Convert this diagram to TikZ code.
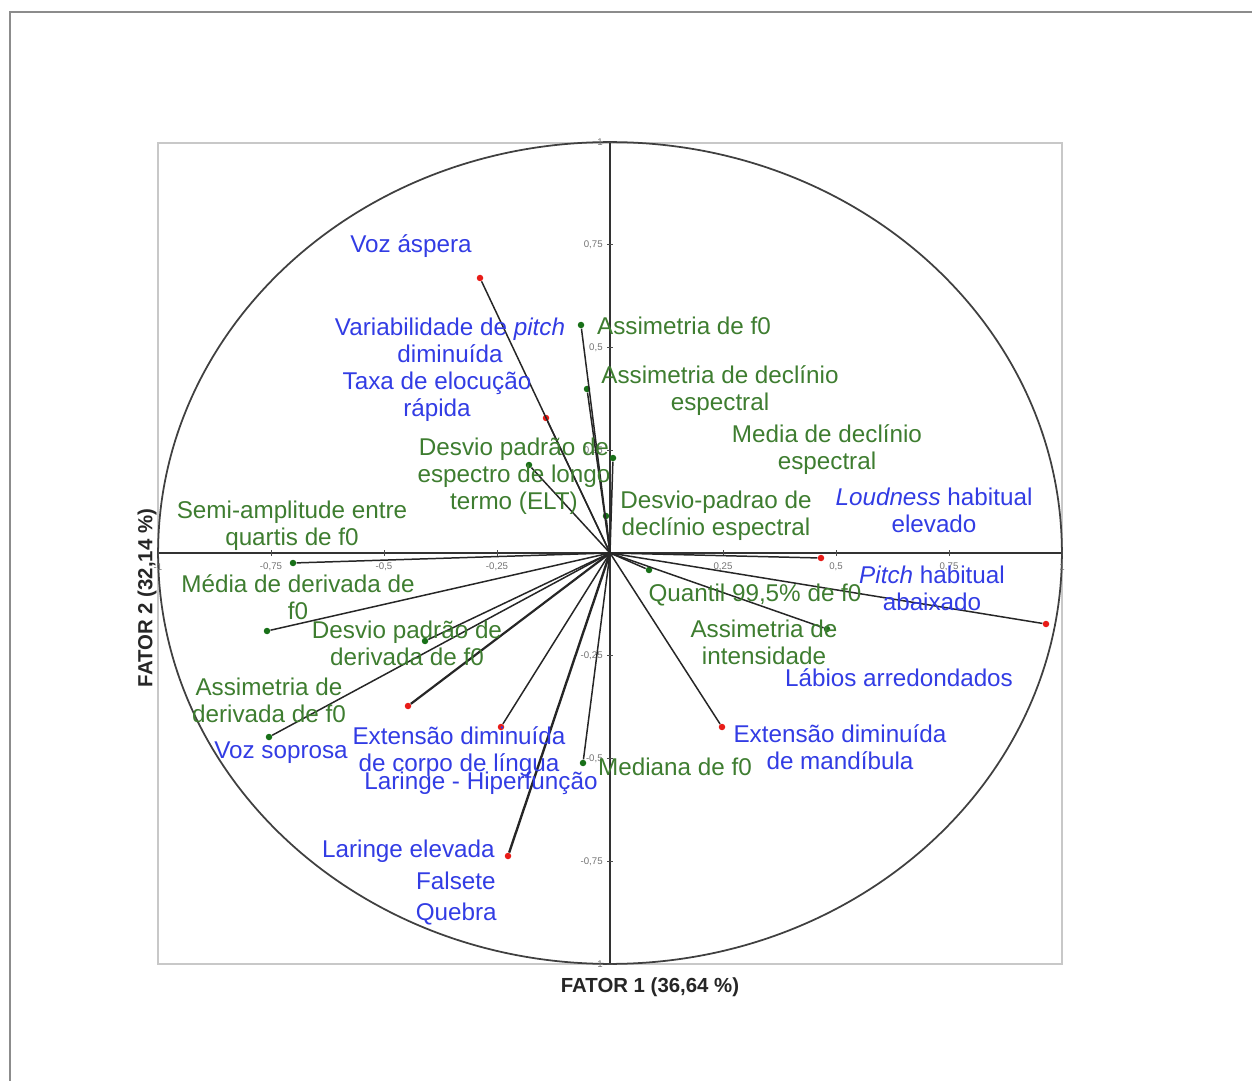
\documentclass[tikz,border=0pt]{standalone}
\usepackage{fontspec}
\setmainfont{Liberation Sans}
\usetikzlibrary{positioning}
\definecolor{qualblue}{RGB}{50,60,228}
\definecolor{acugreen}{RGB}{62,125,48}
\definecolor{ptred}{RGB}{232,28,24}
\definecolor{ptgreen}{RGB}{24,112,24}
\definecolor{boxgray}{RGB}{200,200,200}
\definecolor{framegray}{RGB}{140,140,140}
\tikzset{
  qual/.style={text=qualblue, font=\fontsize{13.8}{15.4}\selectfont, align=center, inner sep=0pt},
  acu/.style={text=acugreen, font=\fontsize{13.8}{15.4}\selectfont, align=center, inner sep=0pt},
  redpt/.style={circle, fill=ptred, inner sep=0pt, minimum size=0.13cm},
  greenpt/.style={circle, fill=ptgreen, inner sep=0pt, minimum size=0.13cm},
  vec/.style={draw=black!85, line width=0.85pt},
  axlbl/.style={font=\fontsize{11.6}{13}\selectfont\bfseries, text=black!85, inner sep=0pt},
  ticklbl/.style={font=\fontsize{5.5}{6}\selectfont, text=black!55, inner sep=0pt},
  tickmark/.style={draw=black!70, line width=0.5pt}
}
\begin{document}
\begin{tikzpicture}[x=0.02cm,y=-0.02cm]
\useasboundingbox (0,0) rectangle (1252,1081);
% frame and plot box
\draw[framegray, line width=1.3pt] (10,1081) -- (10,12) -- (1252,12);
\draw[boxgray, line width=0.9pt] (158,143) rectangle (1062,964);
% axes and correlation circle
\coordinate (o) at (610,553);
\draw[black!80, line width=0.75pt] (158,553) -- (1062,553);
\draw[black!80, line width=0.75pt] (610,143) -- (610,964);
\draw[black!75, line width=1pt] (o) ellipse [x radius=9.04cm, y radius=8.22cm];
% ticks
\foreach \k/\t in {-4/-1,-3/{-0,75},-2/{-0,5},-1/{-0,25},1/{0,25},2/{0,5},3/{0,75},4/1} {
  \draw[tickmark] ({610+113*\k},550) -- ({610+113*\k},556);
  \node[ticklbl] at ({610+113*\k},567) {\t};
}
\foreach \k/\t in {-4/-1,-3/{-0,75},-2/{-0,5},-1/{-0,25},1/{0,25},2/{0,5},3/{0,75},4/1} {
  \draw[tickmark] (607,{553-102.75*\k}) -- (613,{553-102.75*\k});
  \node[ticklbl, anchor=east] at (603,{553-102.75*\k}) {\t};
}
% points
\foreach \n/\px/\py in {aspera/480/278, taxa/546/418, loud/821/558, pitchhab/1046/624,
    mandib/722/727, lingua/501/727, hiperf/408/706, elevada/508/856}
  \node[redpt] (\n) at (\px,\py) {};
\foreach \n/\px/\py in {assf/581/325, assdecl/587/389, meddecl/613/458, dpelt/529/465,
    dpdecl/606/516, semiamp/293/563, quantil/649/570, medderiv/267/631,
    dpderiv/425/641, assderiv/269/737, assint/827/629, mediana/583/763}
  \node[greenpt] (\n) at (\px,\py) {};
% vectors
\foreach \n in {aspera, taxa, loud, pitchhab, mandib, lingua, assf, assdecl, meddecl,
    dpelt, dpdecl, semiamp, quantil, medderiv, dpderiv, assderiv, assint, mediana}
  \draw[vec] (o) -- (\n);
\draw[vec, line width=1.25pt] (o) -- (hiperf);
\draw[vec, line width=1.35pt] (o) -- (elevada);
% labels
\node[qual] (l-aspera) at (411,246) {Voz áspera};
\node[qual] (l-variab) at (450,340) {Variabilidade de \textit{pitch}\\diminuída};
\node[qual] (l-taxa) at (437,397) {Taxa de elocução\\rápida};
\node[qual] (l-loud) at (934,510) {\textit{Loudness} habitual\\elevado};
\node[qual] (l-pitchhab) at (932,588) {\textit{Pitch} habitual\\abaixado};
\node[qual] (l-labios) at (899,678) {Lábios arredondados};
\node[qual] (l-mandib) at (840,747) {Extensão diminuída\\de mandíbula};
\node[qual] (l-lingua) at (459,752) {Extensão diminuída\\de corpo de língua};
\node[qual] (l-hiperf) at (481,783) {Laringe - Hiperfunção};
\node[qual] (l-soprosa) at (281,753) {Voz soprosa};
\node[qual, anchor=east] (l-elevada) at (495,851) {Laringe elevada};
\node[qual, anchor=east] (l-falsete) at (496,881) {Falsete};
\node[qual, anchor=east] (l-quebra) at (497,914) {Quebra};
\node[acu] (l-assf) at (684,326) {Assimetria de f0};
\node[acu] (l-assdecl) at (720,391) {Assimetria de declínio\\espectral};
\node[acu] (l-meddecl) at (827,450) {Media de declínio\\espectral};
\node[acu] (l-dpelt) at (514,476) {Desvio padrão de\\espectro de longo\\termo (ELT)};
\node[acu] (l-dpdecl) at (716,516) {Desvio-padrao de\\declínio espectral};
\node[acu] (l-semiamp) at (292,526) {Semi-amplitude entre\\quartis de f0};
\node[acu] (l-medderiv) at (298,597) {Média de derivada de\\f0};
\node[acu] (l-quantil) at (755,595) {Quantil 99,5\% de f0};
\node[acu] (l-dpderiv) at (407,643) {Desvio padrão de\\derivada de f0};
\node[acu] (l-assint) at (764,642) {Assimetria de\\intensidade};
\node[acu] (l-assderiv) at (269,700) {Assimetria de\\derivada de f0};
\node[acu] (l-mediana) at (675,767) {Mediana de f0};
% axis titles
\node[axlbl] (xlbl) at (650,987) {FATOR 1 (36,64 \%)};
\node[axlbl, rotate=90] (ylbl) at (147,598) {FATOR 2 (32,14 \%)};
\end{tikzpicture}
\end{document}
